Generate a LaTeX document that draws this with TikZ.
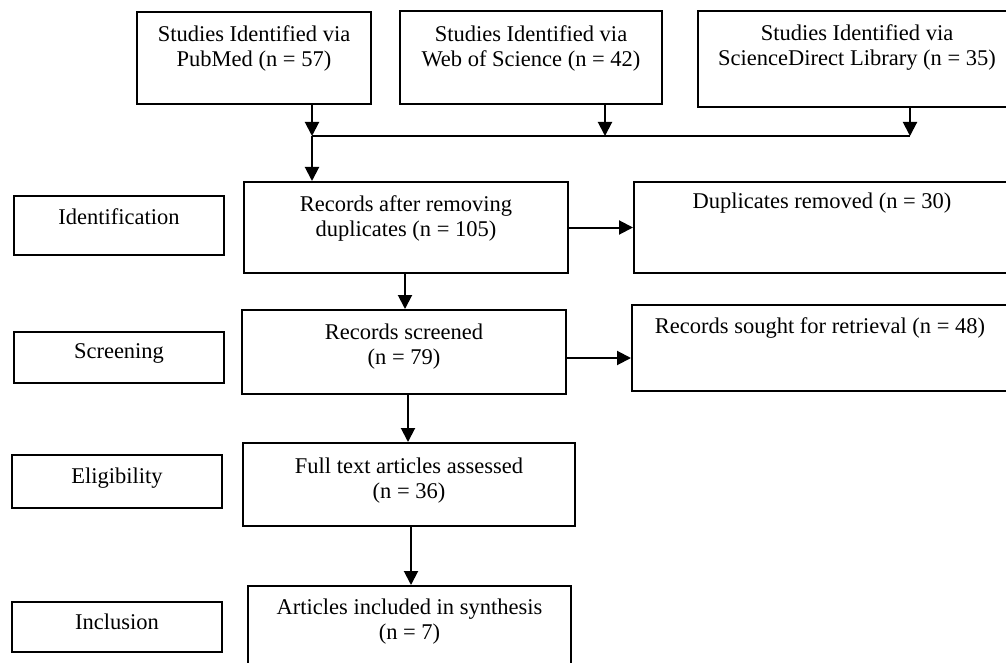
\documentclass[tikz,border=0pt]{standalone}
\usepackage{fontspec}
\setmainfont{Liberation Serif}
\usetikzlibrary{arrows.meta}
\begin{document}
\begin{tikzpicture}[
  x=1pt, y=-1pt,
  box/.style={draw=black, line width=2pt, rectangle, inner sep=0pt},
  txt/.style={align=center, inner sep=0pt, font=\fontsize{22.5}{25}\selectfont},
  arr/.style={line width=2pt, -{Triangle[length=14pt,width=14pt]}},
  conn/.style={line width=2pt}
]
\useasboundingbox (0,0) rectangle (1006,663);

% top source boxes
\node[box, minimum width=234pt, minimum height=92pt] (pub) at (254,58) {};
\node[txt] (pubt) at (254,48.5) {Studies Identified via\\PubMed (n = 57)};
\node[box, minimum width=262pt, minimum height=93pt] (wos) at (531,57.5) {};
\node[txt] (wost) at (531,48.5) {Studies Identified via\\Web of Science (n = 42)};
\node[box, minimum width=318pt, minimum height=96pt] (sd) at (857,59) {};
\node[txt] (sdt) at (857,48) {Studies Identified via\\ScienceDirect Library (n = 35)};

% main flow boxes
\node[box, minimum width=324pt, minimum height=91pt] (rec) at (406,227.5) {};
\node[txt] (rect) at (406,218) {Records after removing\\duplicates (n = 105)};
\node[box, minimum width=376pt, minimum height=91pt] (dup) at (822,227.5) {};
\node[txt] (dupt) at (822,203) {Duplicates removed (n = 30)};
\node[box, minimum width=324pt, minimum height=84pt] (scr) at (404,352) {};
\node[txt] (scrt) at (404,346.5) {Records screened\\(n = 79)};
\node[box, minimum width=376pt, minimum height=86pt] (sought) at (820,348) {};
\node[txt] (soughtt) at (820,328) {Records sought for retrieval (n = 48)};
\node[box, minimum width=332pt, minimum height=83pt] (full) at (409,484.5) {};
\node[txt] (fullt) at (409,480.5) {Full text articles assessed\\(n = 36)};
\node[box, minimum width=323pt, minimum height=86pt] (art) at (409.5,629) {};
\node[txt] (artt) at (409.5,621.5) {Articles included in synthesis\\(n = 7)};

% stage labels
\node[box, minimum width=210pt, minimum height=59pt] (ident) at (119,225.5) {};
\node[txt] (identt) at (119,217) {Identification};
\node[box, minimum width=210pt, minimum height=51pt] (screen) at (119,357.5) {};
\node[txt] (screent) at (119,353) {Screening};
\node[box, minimum width=210pt, minimum height=53pt] (elig) at (117,481.5) {};
\node[txt] (eligt) at (117,478) {Eligibility};
\node[box, minimum width=210pt, minimum height=50pt] (incl) at (117,627) {};
\node[txt] (inclt) at (117,622) {Inclusion};

% junction
\coordinate (j1) at (312,136);
\coordinate (j2) at (605,136);
\coordinate (j3) at (910,136);
\draw[arr] (pub.south -| j1) -- (j1);
\draw[arr] (wos.south -| j2) -- (j2);
\draw[arr] (sd.south -| j3) -- (j3);
\draw[conn] (j1) -- (j3);
\draw[arr] (j1) -- (j1 |- rec.north);

% flow arrows
\draw[arr] (rec.east) -- (dup.west);
\draw[arr] (405,273) coordinate (a1) (a1 |- rec.south) -- (a1 |- scr.north);
\draw[arr] ([yshift=-6pt]scr.east) -- ([yshift=-6pt]scr.east -| sought.west);
\draw[arr] (408,394) coordinate (a2) (a2 |- scr.south) -- (a2 |- full.north);
\draw[arr] (411,526) coordinate (a3) (a3 |- full.south) -- (a3 |- art.north);
\end{tikzpicture}
\end{document}
